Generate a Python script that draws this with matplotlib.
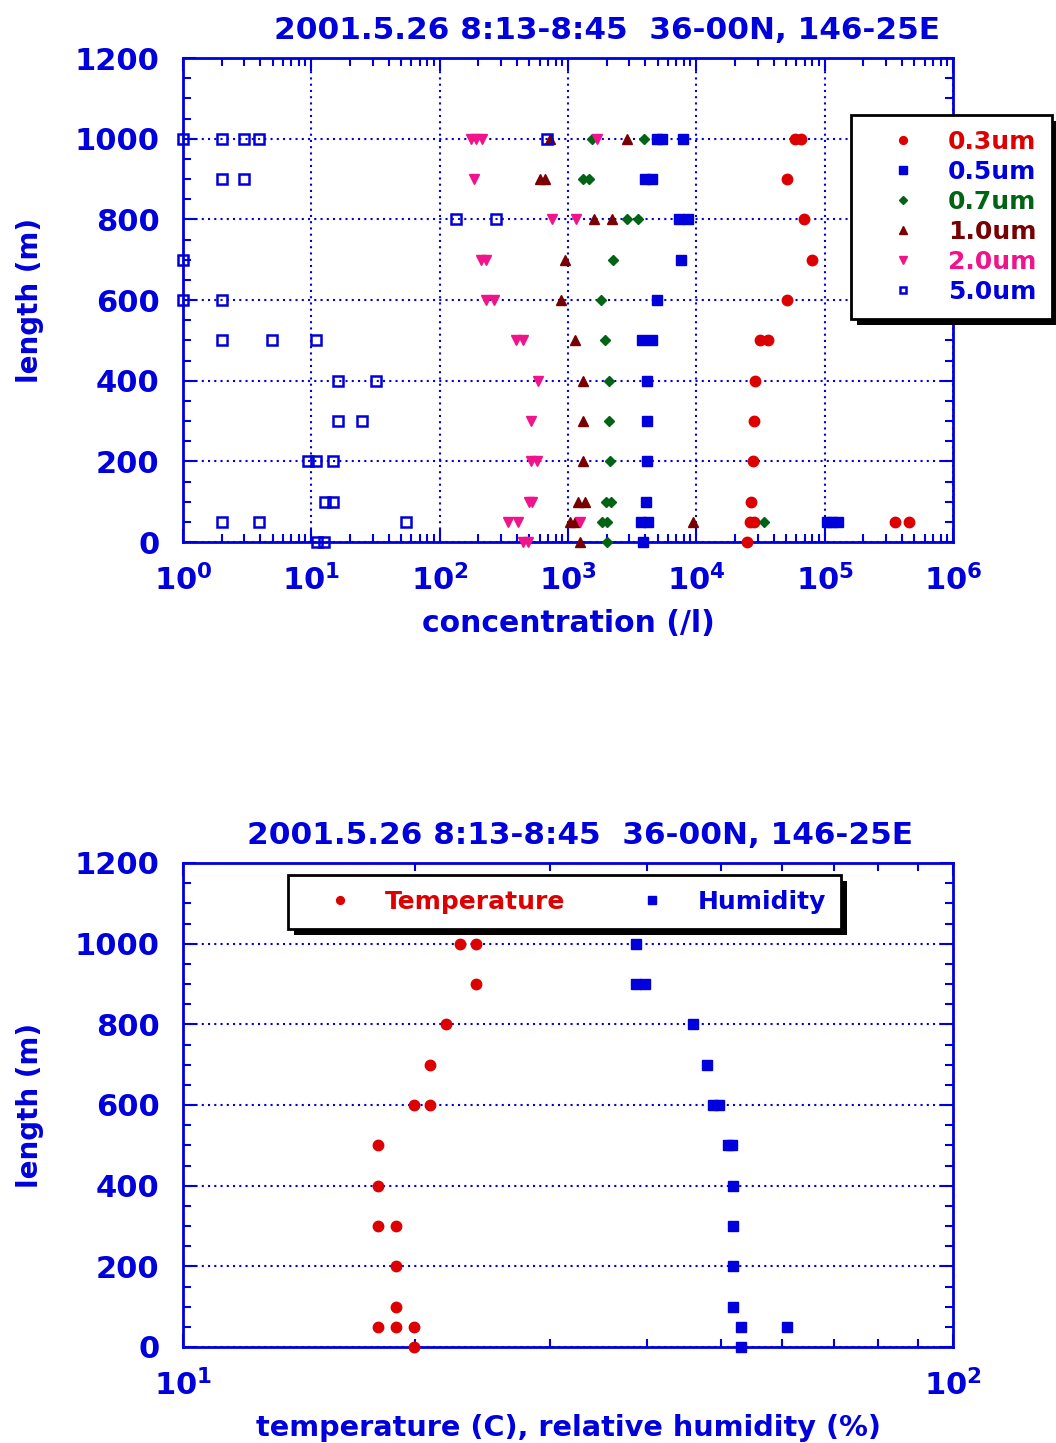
import matplotlib
matplotlib.use("Agg")
import matplotlib.pyplot as plt
from matplotlib.patches import Rectangle
from matplotlib.ticker import LogLocator, FixedLocator, MultipleLocator, FuncFormatter, NullFormatter

# ---------------- data (top chart: concentration vs length) ----------------
h_03 = [1000, 1000, 900, 800, 700, 600, 500, 500, 400, 300, 200, 100, 50, 50, 50, 50, 0]
c_03 = [58700, 65400, 50600, 69000, 80200, 50600, 31300, 36400, 28700, 28100, 27500, 26700,
        26200, 28300, 355000, 457000, 24700]

h_05 = [1000, 1000, 1000, 900, 900, 800, 800, 700, 600, 500, 500, 400, 300, 200, 100,
        50, 50, 50, 50, 50, 0]
c_05 = [4900, 5370, 7830, 3980, 4490, 7330, 8610, 7550, 4965, 3770, 4520, 4150, 4150, 4150, 4030,
        3710, 4200, 104000, 114000, 127000, 3860]

h_07 = [1000, 1000, 900, 900, 800, 800, 700, 600, 500, 400, 300, 200, 100, 100, 50, 50, 50, 0]
c_07 = [1529, 3935, 1318, 1457, 2866, 3530, 2256, 1808, 1942, 2100, 2100, 2125, 1978, 2150,
        1830, 2004, 33900, 2004]

h_10 = [1000, 1000, 900, 900, 800, 800, 700, 600, 500, 400, 300, 200, 100, 100, 50, 50, 50, 0]
c_10 = [724, 2866, 605, 662, 1597, 2217, 948, 882, 1134, 1318, 1318, 1318, 1205, 1358,
        1037, 1134, 9480, 1242]

h_20 = [1000, 1000, 1000, 1000, 900, 800, 800, 700, 700, 600, 600, 500, 500, 400, 300,
        200, 200, 100, 100, 50, 50, 50, 0, 0]
c_20 = [175, 192, 212, 1670, 186, 755, 1155, 210, 230, 230, 265, 394, 449, 580, 515,
        512, 576, 495, 525, 343, 410, 1240, 449, 491]

h_50 = [1000, 1000, 1000, 1000, 1000, 900, 900, 800, 800, 700, 600, 600, 500, 500, 500,
        400, 400, 300, 300, 200, 200, 200, 100, 100, 50, 50, 50, 0, 0]
c_50 = [1, 2, 3, 3.9, 680, 2, 3, 133, 275, 1, 1, 2, 2, 4.9, 10.8,
        16, 32, 16, 24.7, 9.5, 10.8, 14.8, 12.8, 14.8, 2, 3.9, 55, 11, 12.5]

size_labels = ["0.3um", "0.5um", "0.7um", "1.0um", "2.0um", "5.0um"]

# ---------------- data (bottom chart) ----------------
h_temp = [1000, 1000, 900, 800, 700, 600, 600, 500, 400, 300, 300, 200, 100, 50, 50, 50, 0]
temp = [22.9, 24.0, 24.0, 21.96, 20.93, 19.95, 20.93, 17.92, 17.92, 17.92, 18.91, 18.91, 18.91,
        17.92, 18.91, 19.95, 19.95]

h_hum = [1000, 900, 900, 800, 700, 600, 600, 500, 500, 400, 300, 200, 100, 50, 50, 0]
hum = [38.8, 38.75, 39.8, 45.9, 47.9, 48.8, 49.7, 51.0, 51.6, 51.8, 51.8, 51.8, 51.8,
       53.0, 60.8, 53.0]

title_text = "2001.5.26 8:13-8:45  36-00N, 146-25E"

# ---------------- style ----------------
BLUE = "#0000DC"
RED = "#DD0000"
GREEN = "#006414"
DRED = "#780000"
PINK = "#F0148C"
FONT = "DejaVu Sans"

plt.rcParams["font.family"] = [FONT]
plt.rcParams["font.weight"] = "bold"
plt.rcParams["mathtext.default"] = "bf"

fig = plt.figure(figsize=(10.56, 14.43), dpi=100)
ax1 = fig.add_axes([183 / 1056, 1 - 542 / 1443, 770 / 1056, 484 / 1443])
ax2 = fig.add_axes([183 / 1056, 1 - 1347 / 1443, 770 / 1056, 484 / 1443])


def style_axes(ax):
    for s in ax.spines.values():
        s.set_color(BLUE)
        s.set_linewidth(2)
    ax.tick_params(which="both", direction="in", colors=BLUE, top=True, right=True, width=1.5)
    ax.tick_params(which="major", length=9.5)
    ax.tick_params(which="minor", length=5.5)
    ax.tick_params(axis="y", which="major", labelsize=22, pad=17)
    ax.tick_params(axis="x", which="major", labelsize=22, pad=15.5)
    for lab in ax.get_xticklabels() + ax.get_yticklabels():
        lab.set_fontweight("bold")
    ax.set_ylim(0, 1200)
    ax.yaxis.set_major_locator(MultipleLocator(200))
    ax.yaxis.set_minor_locator(MultipleLocator(50))
    ax.set_ylabel("length (m)", fontsize=20, fontweight="bold", color=BLUE, labelpad=22)


def log_fmt(v, pos):
    import math
    e = int(round(math.log10(v)))
    return r"$\mathbf{10^{%d}}$" % e


def add_shadow(ax, leg, off=6):
    fig.canvas.draw()
    bb = leg.get_frame().get_window_extent()
    inv = ax.transAxes.inverted()
    (x0, y0) = inv.transform((bb.x0 + off, bb.y0 - off))
    (x1, y1) = inv.transform((bb.x1 + off, bb.y1 - off))
    r = Rectangle((x0, y0), x1 - x0, y1 - y0, transform=ax.transAxes, facecolor="black",
                  edgecolor="none", zorder=4.9, clip_on=False)
    ax.add_patch(r)


# ---------------- top chart ----------------
ax = ax1
ax.set_xscale("log")
ax.set_xlim(1, 1e6)
ax.xaxis.set_major_locator(LogLocator(base=10, numticks=10))
ax.xaxis.set_minor_locator(LogLocator(base=10, subs=range(2, 10), numticks=20))
ax.xaxis.set_minor_formatter(NullFormatter())
ax.xaxis.set_major_formatter(FuncFormatter(log_fmt))
ax.grid(True, which="major", axis="both", color=BLUE, linestyle=(0, (1, 2)), linewidth=1.5)
ax.set_axisbelow(True)
style_axes(ax)
ax.set_xlabel("concentration (/l)", fontsize=21.5, fontweight="bold", color=BLUE, labelpad=9)
ax.set_title(title_text, fontsize=22.4, fontweight="bold", color=BLUE, pad=14, x=0.551)

ms = 7.5
ax.plot(c_03, h_03, "o", color=RED, ms=ms, clip_on=False, label=size_labels[0], zorder=3)
ax.plot(c_05, h_05, "s", color=BLUE, ms=7, clip_on=False, label=size_labels[1], zorder=3)
ax.plot(c_07, h_07, "D", color=GREEN, ms=5.5, clip_on=False, label=size_labels[2], zorder=3)
ax.plot(c_10, h_10, "^", color=DRED, ms=ms, clip_on=False, label=size_labels[3], zorder=3)
ax.plot(c_20, h_20, "v", color=PINK, ms=ms, clip_on=False, label=size_labels[4], zorder=3)
ax.plot(c_50, h_50, "s", mfc="none", mec=BLUE, mew=1.8, ms=6.5, clip_on=False,
        label=size_labels[5], zorder=3)

leg1 = ax.legend(loc="upper left", bbox_to_anchor=(851 / 1056, 1 - 115 / 1443),
                 bbox_transform=fig.transFigure, frameon=True, fancybox=False,
                 edgecolor="black", framealpha=1, borderpad=0.6, labelspacing=0.24,
                 handlelength=2.96, handletextpad=0.32, borderaxespad=0,
                 prop={"size": 18, "weight": "bold", "family": FONT},
                 labelcolor=[RED, BLUE, GREEN, DRED, PINK, BLUE], markerscale=0.75)
leg1.get_frame().set_linewidth(2)
leg1.set_zorder(5)

# ---------------- bottom chart ----------------
ax = ax2
ax.set_xscale("log")
ax.set_xlim(10, 100)
ax.xaxis.set_major_locator(FixedLocator([10, 100]))
ax.xaxis.set_minor_locator(FixedLocator([20, 30, 40, 50, 60, 70, 80, 90]))
ax.xaxis.set_minor_formatter(NullFormatter())
ax.xaxis.set_major_formatter(FuncFormatter(log_fmt))
ax.grid(True, which="major", axis="y", color=BLUE, linestyle=(0, (1, 2)), linewidth=1.5)
ax.set_axisbelow(True)
style_axes(ax)
ax.set_xlabel("temperature (C), relative humidity (%)", fontsize=20.7, fontweight="bold",
              color=BLUE, labelpad=9)
ax.set_title(title_text, fontsize=22.4, fontweight="bold", color=BLUE, pad=14, x=0.515)

ax.plot(temp, h_temp, "o", color=RED, ms=ms, clip_on=False, label="Temperature", zorder=3)
ax.plot(hum, h_hum, "s", color=BLUE, ms=7, clip_on=False, label="Humidity", zorder=3)

leg2 = ax.legend(loc="upper left", bbox_to_anchor=(288 / 1056, 1 - 875 / 1443),
                 bbox_transform=fig.transFigure, ncol=2, frameon=True, fancybox=False,
                 edgecolor="black", framealpha=1, borderpad=0.6, columnspacing=2.0,
                 handlelength=2.96, handletextpad=0.32, borderaxespad=0,
                 prop={"size": 18, "weight": "bold", "family": FONT},
                 labelcolor=[RED, BLUE], markerscale=0.75)
leg2.get_frame().set_linewidth(2)
leg2.set_zorder(5)

add_shadow(ax1, leg1)
add_shadow(ax2, leg2)

fig.savefig("out.png", dpi=100)
